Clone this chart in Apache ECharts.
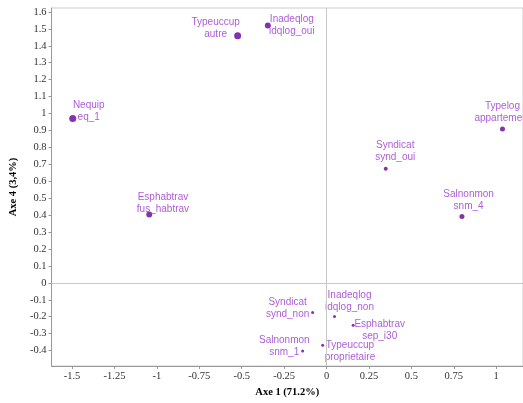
<!DOCTYPE html>
<html>
<head>
<meta charset="utf-8">
<script src="https://cdn.jsdelivr.net/npm/echarts@6/dist/echarts.min.js"></script>
<style>
html,body{margin:0;padding:0;background:#fff;}
#chart{width:523px;height:403px;}
</style>
</head>
<body>
<div id="chart"></div>
<script>
// ---- data ----
var variables = ["Nequip","Typeuccup","Inadeqlog","Typelog","Syndicat","Salnonmon","Esphabtrav","Syndicat","Salnonmon","Inadeqlog","Esphabtrav","Typeuccup"];
var categories = ["eq_1","autre","idqlog_oui","appartement","synd_oui","snm_4","fus_habtrav","synd_non","snm_1","idqlog_non","sep_i30","proprietaire"];
var axe1 = [-1.496,-0.524,-0.346,1.037,0.349,0.798,-1.045,-0.082,-0.141,0.047,0.157,-0.023];
var axe4 = [0.971,1.459,1.520,0.908,0.674,0.392,0.404,-0.175,-0.403,-0.198,-0.251,-0.368];
var quality = [7,7,6,5,4,5,6,3,3,3,3,3];
var xTicks = [-1.5,-1.25,-1,-0.75,-0.5,-0.25,0,0.25,0.5,0.75,1];
var yTicks = [-0.4,-0.3,-0.2,-0.1,0,0.1,0.2,0.3,0.4,0.5,0.6,0.7,0.8,0.9,1,1.1,1.2,1.3,1.4,1.5,1.6];
var xName = "Axe 1 (71.2%)";
var yName = "Axe 4 (3,4%)";

// label offsets (styling, in px relative to point)
var labelOffsets = [[16,-7],[-22,-8],[24,0],[0,-16.5],[9.5,-17.5],[6.7,-16.3],[13.7,-11.3],[-25,-4.6],[-18.3,-5.3],[15,-15.5],[26.5,5.2],[27.3,6.4]];

var data = axe1.map(function(x,i){
  return {
    value:[x, axe4[i]],
    name: variables[i] + "\n" + categories[i],
    symbolSize: quality[i]
  };
});

var chart = echarts.init(document.getElementById('chart'), null, {renderer:'canvas'});
var tickFont = {color:'#333', fontFamily:'Liberation Serif', fontSize:10.5};
chart.setOption({
  animation:false,
  backgroundColor:'#fff',
  grid:{left:51, top:8, right:-2, bottom:34, show:true, borderColor:'#cccccc', borderWidth:1},
  xAxis:{
    type:'value', min:-1.621, max:1.158,
    name:xName, nameLocation:'middle', nameGap:21,
    nameTextStyle:{fontFamily:'Liberation Serif', fontWeight:'bold', fontSize:10.5, color:'#000'},
    axisLine:{show:true, onZero:false, lineStyle:{color:'#999'}},
    axisTick:{show:true, length:3, customValues:xTicks, lineStyle:{color:'#999'}},
    axisLabel:Object.assign({margin:5, customValues:xTicks}, tickFont),
    splitLine:{show:false}
  },
  yAxis:{
    type:'value', min:-0.491, max:1.623,
    name:yName, nameLocation:'middle', nameGap:23,
    nameTextStyle:{fontFamily:'Liberation Serif', fontWeight:'bold', fontSize:10.5, color:'#000'},
    axisLine:{show:true, onZero:false, lineStyle:{color:'#999'}},
    axisTick:{show:true, length:3, customValues:yTicks, lineStyle:{color:'#999'}},
    axisLabel:Object.assign({margin:5, customValues:yTicks}, tickFont),
    splitLine:{show:false}
  },
  series:[{
    type:'scatter',
    data:data,
    itemStyle:{color:'#660099'},
    label:{
      show:true, position:'inside', align:'center', verticalAlign:'middle',
      formatter:function(p){return p.name;},
      color:'#9933cc', fontFamily:'Liberation Sans', fontSize:10, lineHeight:12
    },
    labelLayout:function(params){
      var o = labelOffsets[params.dataIndex];
      return {dx:o[0], dy:o[1], hideOverlap:false, moveOverlap:null};
    },
    markLine:{
      silent:true, symbol:'none', animation:false,
      label:{show:false},
      lineStyle:{color:'#c8c8c8', width:1, type:'solid'},
      data:[{xAxis:0},{yAxis:0}]
    },
    z:3
  }]
});
</script>
</body>
</html>
